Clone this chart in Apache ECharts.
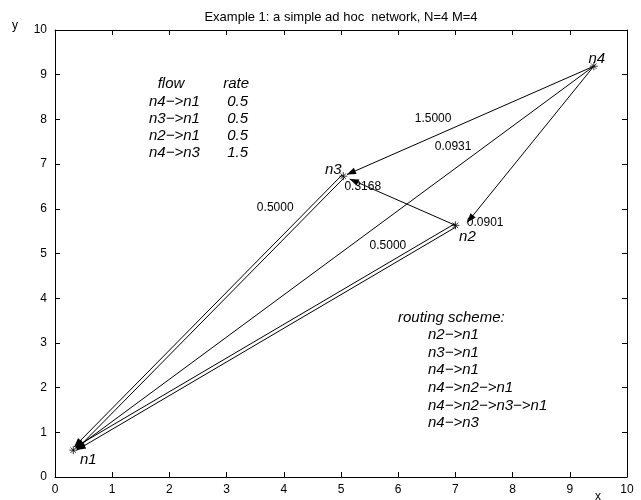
<!DOCTYPE html>
<html><head><meta charset="utf-8">
<script src="https://cdn.jsdelivr.net/npm/echarts@6/dist/echarts.min.js"></script>
<style>html,body{margin:0;padding:0;background:#fff}#c{width:641px;height:500px}</style>
</head><body><div id="c"></div>
<script>
// ---- data ----
const nodeNames = ['n1', 'n2', 'n3', 'n4'];
const nodeX = [0.32, 7.00, 5.04, 9.42];
const nodeY = [0.60, 5.63, 6.73, 9.19];
// directed edges (index into nodes); repeated edges are parallel routes
const edgeFrom = [3, 1, 3, 3, 2, 2, 1, 1];
const edgeTo   = [2, 2, 1, 0, 0, 0, 0, 0];
const edgeLabels = ['1.5000', '0.3168', '0.0901', '0.0931', '0.5000', '0.5000'];
const flowNames = ['n4−>n1', 'n3−>n1', 'n2−>n1', 'n4−>n3'];
const flowRates = ['0.5', '0.5', '0.5', '1.5'];
const routes = ['n2−>n1', 'n3−>n1', 'n4−>n1', 'n4−>n2−>n1', 'n4−>n2−>n3−>n1', 'n4−>n3'];
const xTickLabels = ['0','1','2','3','4','5','6','7','8','9','10'];
const yTickLabels = ['0','1','2','3','4','5','6','7','8','9','10'];
const titleText = 'Example 1: a simple ad hoc  network, N=4 M=4';

// ---- drawing ----
const FONT = '"Liberation Sans", Arial, Helvetica, sans-serif';
const chart = echarts.init(document.getElementById('c'), null, {renderer: 'canvas'});

// per-edge drawing tweaks (pixels): perpendicular offset, shortening, end shift
const edgeDraw = [
  {off: 0, sh: 4},
  {off: 0, sh: 7},
  {off: 0, sh: 0, end: [12, -3]},
  {off: 0, sh: 3},
  {off: -1.7, sh: 3},
  {off: 1.7, sh: 3},
  {off: -1.7, sh: 3},
  {off: 1.7, sh: 3}
];
const labelAnchor = [[6.61, 8.01], [5.38, 6.49], [7.52, 5.68], [6.96, 7.38], [3.85, 6.02], [5.82, 5.17]];
const nodeLabelOffset = [[15, 10], [12, 11], [-10, -6], [3, -7]];

function renderEdge(params, api) {
  const i = api.value(0);
  const f = edgeFrom[i], t = edgeTo[i];
  const p0 = api.coord([nodeX[f], nodeY[f]]);
  const p1 = api.coord([nodeX[t], nodeY[t]]);
  const d = edgeDraw[i];
  const dx = p1[0] - p0[0], dy = p1[1] - p0[1];
  const L = Math.hypot(dx, dy);
  const ux = dx / L, uy = dy / L, nx = -uy, ny = ux;
  const a = [p0[0] + nx * d.off, p0[1] + ny * d.off];
  let b = [p1[0] + nx * d.off - ux * d.sh, p1[1] + ny * d.off - uy * d.sh];
  if (d.end) b = [p1[0] + d.end[0], p1[1] + d.end[1]];
  const ddx = b[0] - a[0], ddy = b[1] - a[1];
  const LL = Math.hypot(ddx, ddy);
  const vx = ddx / LL, vy = ddy / LL;
  const al = 9, aw = 3.4;
  const base = [b[0] - vx * al, b[1] - vy * al];
  return {
    type: 'group',
    children: [
      {type: 'line', shape: {x1: a[0], y1: a[1], x2: b[0], y2: b[1]}, style: {stroke: '#000', lineWidth: 1}},
      {type: 'polygon', shape: {points: [b, [base[0] - vy * aw, base[1] + vx * aw], [base[0] + vy * aw, base[1] - vx * aw]]}, style: {fill: '#000'}}
    ]
  };
}

function renderNodeLabel(params, api) {
  const i = api.value(0);
  const p = api.coord([nodeX[i], nodeY[i]]);
  const o = nodeLabelOffset[i];
  return {type: 'text', x: p[0] + o[0], y: p[1] + o[1],
    style: {text: nodeNames[i], font: 'italic 15px ' + FONT, fill: '#000', align: 'center', verticalAlign: 'middle'}};
}

function renderEdgeLabel(params, api) {
  const i = api.value(0);
  const p = api.coord(labelAnchor[i]);
  return {type: 'text', x: p[0], y: p[1],
    style: {text: edgeLabels[i], font: '12px ' + FONT, fill: '#000', align: 'center', verticalAlign: 'middle'}};
}

const axisCommon = {
  type: 'value', min: 0, max: 10, interval: 1,
  axisLine: {show: true, onZero: false, lineStyle: {color: '#000', width: 1}},
  axisTick: {show: true, inside: true, length: 5, lineStyle: {color: '#000'}},
  splitLine: {show: false}
};

const texts = [];
texts.push({type: 'text', x: 341, y: 17, style: {text: titleText, font: '13px ' + FONT, fill: '#000', align: 'center', verticalAlign: 'middle'}});
texts.push({type: 'text', x: 15, y: 26, style: {text: 'y', font: '12px ' + FONT, fill: '#000', align: 'center', verticalAlign: 'middle'}});
texts.push({type: 'text', x: 598, y: 497, style: {text: 'x', font: '12px ' + FONT, fill: '#000', align: 'center', verticalAlign: 'middle'}});
const IT = 'italic 15px ' + FONT;
texts.push({type: 'text', x: 171, y: 84, style: {text: 'flow', font: IT, fill: '#000', align: 'center', verticalAlign: 'middle'}});
texts.push({type: 'text', x: 249, y: 84, style: {text: 'rate', font: IT, fill: '#000', align: 'right', verticalAlign: 'middle'}});
flowNames.forEach((s, k) => {
  texts.push({type: 'text', x: 149, y: 102 + k * 17, style: {text: s, font: IT, fill: '#000', align: 'left', verticalAlign: 'middle'}});
  texts.push({type: 'text', x: 248, y: 102 + k * 17, style: {text: flowRates[k], font: IT, fill: '#000', align: 'right', verticalAlign: 'middle'}});
});
texts.push({type: 'text', x: 398, y: 318, style: {text: 'routing scheme:', font: IT, fill: '#000', align: 'left', verticalAlign: 'middle'}});
routes.forEach((s, k) => {
  texts.push({type: 'text', x: 428, y: 335 + k * 17.6, style: {text: s, font: IT, fill: '#000', align: 'left', verticalAlign: 'middle'}});
});

chart.setOption({
  animation: false,
  backgroundColor: '#fff',
  grid: {left: 55, right: 14, top: 30, bottom: 23},
  xAxis: [
    Object.assign({}, axisCommon, {position: 'bottom',
      axisLabel: {color: '#000', fontSize: 12, fontFamily: FONT, margin: 7, formatter: (v) => xTickLabels[Math.round(v)]}}),
    Object.assign({}, axisCommon, {position: 'top', axisLabel: {show: false}})
  ],
  yAxis: [
    Object.assign({}, axisCommon, {position: 'left',
      axisLabel: {color: '#000', fontSize: 12, fontFamily: FONT, margin: 8, formatter: (v) => yTickLabels[Math.round(v)]}}),
    Object.assign({}, axisCommon, {position: 'right', axisLabel: {show: false}})
  ],
  series: [
    {
      type: 'custom', renderItem: renderEdge, silent: true,
      data: edgeFrom.map((_, i) => [i]),
      encode: {x: 0},
      clip: false, z: 2
    },
    {
      type: 'scatter', silent: true, z: 3,
      symbol: 'path://M5,0L5,10M0,5L10,5M1.6,1.6L8.4,8.4M1.6,8.4L8.4,1.6',
      symbolSize: 8,
      itemStyle: {color: 'rgba(0,0,0,0)', borderColor: '#000', borderWidth: 1},
      data: nodeNames.map((n, i) => [nodeX[i], nodeY[i]])
    },
    {
      type: 'custom', renderItem: renderNodeLabel, silent: true, z: 4,
      data: nodeNames.map((_, i) => [i]), encode: {x: 0}, clip: false
    },
    {
      type: 'custom', renderItem: renderEdgeLabel, silent: true, z: 4,
      data: edgeLabels.map((_, i) => [i]), encode: {x: 0}, clip: false
    }
  ],
  graphic: texts
});
</script>
</body></html>
